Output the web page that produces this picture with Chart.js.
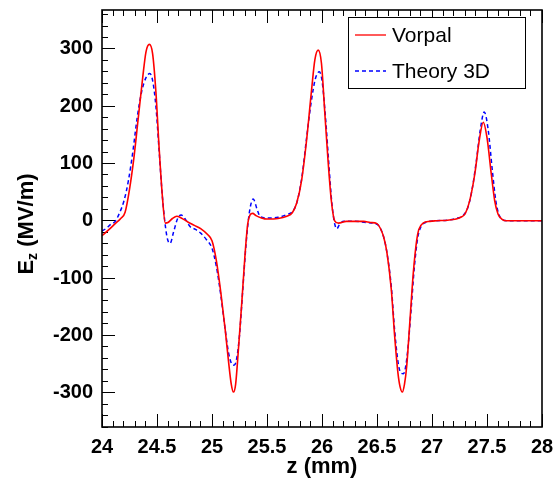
<!DOCTYPE html>
<html>
<head>
<meta charset="utf-8">
<script src="https://cdn.jsdelivr.net/npm/chart.js"></script>
<style>
    body { margin: 0; background: #fff; }
</style>
</head>
<body>
<canvas id="myChart" width="559" height="481"></canvas>
<script>
// Vorpal (simulation)
var zVorpal = [24.00, 24.06, 24.12, 24.17, 24.21, 24.25, 24.29, 24.33, 24.37, 24.40, 24.43, 24.46, 24.49, 24.52, 24.55, 24.575,
    24.60, 24.64, 24.68, 24.72, 24.78, 24.84, 24.90, 24.96, 25.00, 25.04, 25.08, 25.12, 25.15, 25.175, 25.195, 25.215, 25.24,
    25.27, 25.30, 25.325, 25.345, 25.37, 25.40, 25.45, 25.50, 25.60, 25.68, 25.73, 25.77, 25.815, 25.86, 25.905, 25.935, 25.965,
    25.995, 26.025, 26.055, 26.085, 26.115, 26.15, 26.22, 26.30, 26.38, 26.44, 26.50, 26.53, 26.56, 26.59, 26.63, 26.66, 26.69,
    26.71, 26.73, 26.75, 26.77, 26.80, 26.83, 26.86, 26.88, 26.92, 26.98, 27.04, 27.14, 27.22, 27.27, 27.30, 27.345, 27.39,
    27.43, 27.466, 27.50, 27.54, 27.57, 27.60, 27.634, 27.68, 27.80, 28.00];
var ezVorpal = [-26, -16, -5, 4, 15, 55, 110, 180, 250, 295, 308, 292, 225, 125, 40, -4,
    -3, 4, 8, 5, -2, -8, -14, -24, -35, -70, -125, -190, -245, -285, -299, -285, -225,
    -145, -60, -5, 10, 13, 9, 5, 3, 4, 8, 14, 31, 71, 141, 228, 281, 298,
    275, 190, 105, 35, 0, -4, -1, -1, -1, -3, -5, -13, -28, -55, -120, -200, -265,
    -290, -299, -285, -254, -173, -91, -35, -15, -4, -1, 0, 1, 3, 7, 12, 37, 83,
    141, 172, 145, 80, 35, 12, 3, 0, 0, 0];

// Theory 3D
var zTheory = [24.00, 24.04, 24.08, 24.12, 24.16, 24.20, 24.24, 24.28, 24.32, 24.36, 24.40, 24.435, 24.46, 24.49, 24.52, 24.55,
    24.58, 24.60, 24.62, 24.65, 24.69, 24.72, 24.76, 24.80, 24.85, 24.90, 24.95, 25.00, 25.04, 25.08, 25.12, 25.15, 25.18,
    25.20, 25.22, 25.25, 25.28, 25.31, 25.34, 25.375, 25.41, 25.44, 25.50, 25.60, 25.68, 25.74, 25.78, 25.82, 25.86, 25.90,
    25.94, 25.975, 26.00, 26.03, 26.06, 26.09, 26.115, 26.135, 26.16, 26.20, 26.30, 26.40, 26.50, 26.53, 26.56, 26.59, 26.63,
    26.66, 26.69, 26.715, 26.74, 26.76, 26.78, 26.81, 26.84, 26.87, 26.90, 26.94, 27.04, 27.14, 27.22, 27.28, 27.32, 27.36,
    27.40, 27.44, 27.475, 27.51, 27.55, 27.58, 27.61, 27.64, 27.70, 28.00];
var ezTheory = [-18, -13, -6, -1, 14, 35, 70, 120, 180, 225, 250, 257, 245, 200, 120, 40,
    -15, -35, -39, -20, 5, 10, 2, -10, -15, -22, -33, -48, -80, -130, -190, -230, -250,
    -252, -245, -200, -120, -40, 15, 38, 20, 7, 5, 6, 11, 18, 38, 80, 145, 205,
    248, 260, 245, 185, 105, 30, -5, -14, -6, -1, -1, -3, -6, -13, -28, -55, -115,
    -190, -245, -265, -267, -255, -225, -155, -80, -30, -10, -3, 0, 1, 4, 9, 20, 50,
    100, 160, 190, 160, 85, 35, 10, 2, 0, 0];

var zTicks = [24, 24.5, 25, 25.5, 26, 26.5, 27, 27.5, 28];
var ezTicks = [-300, -200, -100, 0, 100, 200, 300];
var zMinorStep = 0.1;
var ezMinorStep = 20;
var seriesNames = ['Vorpal', 'Theory 3D'];

var zMin = 24, zMax = 28;
var ezMin = -360, ezMax = 368;
var legendBox = { x: 348, y: 17, w: 177, h: 71 };
var tickFont = { family: '"Liberation Sans", Arial, sans-serif', size: 20, weight: 'bold' };

function toPoints(xs, ys) {
    var pts = [];
    for (var i = 0; i < xs.length; i++) {
        pts.push({ x: xs[i], y: ys[i] });
    }
    return pts;
}

function fixTicks(list) {
    return function (scale) {
        scale.ticks = list.map(function (v) { return { value: v }; });
    };
}

function stepTicks(lo, hi, step) {
    var out = [];
    var n = Math.round((hi - lo) / step);
    var start = Math.ceil(lo / step - 1e-9);
    for (var k = start; k * step <= hi + 1e-9; k++) {
        out.push(Math.round(k * step * 1000) / 1000);
    }
    return out;
}

// 눈금만 그리는 보조 축 (라벨 없음, 안쪽 방향)
function tickAxis(axis, position, lo, hi, list, len) {
    return {
        type: 'linear',
        axis: axis,
        position: position,
        min: lo,
        max: hi,
        weight: 0,
        afterBuildTicks: fixTicks(list),
        afterFit: function (s) {
            if (axis === 'x') { s.height = 0; } else { s.width = 0; }
            s.paddingTop = 0; s.paddingBottom = 0; s.paddingLeft = 0; s.paddingRight = 0;
        },
        grid: { display: true, drawOnChartArea: false, drawTicks: true, tickLength: -len, tickColor: '#000', tickWidth: 1 },
        border: { display: false },
        ticks: { display: false }
    };
}

// 프레임, 범례, 축 제목
var framePlugin = {
    id: 'rootStyle',
    afterDraw: function (chart) {
        var c = chart.ctx;
        var a = chart.chartArea;

        c.save();
        // 범례
        c.fillStyle = '#ffffff';
        c.fillRect(legendBox.x, legendBox.y, legendBox.w, legendBox.h);
        c.strokeStyle = '#000000';
        c.lineWidth = 1;
        c.strokeRect(legendBox.x + 0.5, legendBox.y + 0.5, legendBox.w, legendBox.h);
        c.font = '21px "Liberation Sans", Arial, sans-serif';
        c.textBaseline = 'middle';
        c.textAlign = 'left';
        chart.data.datasets.forEach(function (ds, k) {
            var ly = 35 + k * 36;
            c.save();
            c.beginPath();
            c.strokeStyle = ds.borderColor;
            c.lineWidth = 1.3;
            c.setLineDash(ds.borderDash || []);
            c.moveTo(355, ly);
            c.lineTo(386, ly);
            c.stroke();
            c.restore();
            c.fillStyle = '#000000';
            c.fillText(ds.label, 392, ly + 1);
        });

        // 테두리
        c.strokeStyle = '#000000';
        c.lineWidth = 1.6;
        c.strokeRect(a.left, a.top, a.right - a.left, a.bottom - a.top);

        // 축 제목
        c.fillStyle = '#000000';
        c.font = 'bold 22px "Liberation Sans", Arial, sans-serif';
        c.textAlign = 'center';
        c.fillText('z (mm)', (a.left + a.right) / 2, 467);

        c.translate(27, 224);
        c.rotate(-Math.PI / 2);
        var big = 'bold 22px "Liberation Sans", Arial, sans-serif';
        var small = 'bold 14px "Liberation Sans", Arial, sans-serif';
        c.font = big;
        var wE = c.measureText('E').width;
        var wRest = c.measureText(' (MV/m)').width;
        c.font = small;
        var wz = c.measureText('z').width;
        var x0 = -(wE + wz + wRest) / 2;
        c.textAlign = 'left';
        c.font = big;
        c.fillText('E', x0, 0);
        c.font = small;
        c.fillText('z', x0 + wE, 6);
        c.font = big;
        c.fillText(' (MV/m)', x0 + wE + wz, 0);
        c.restore();
    }
};

var zMinor = stepTicks(zMin, zMax, zMinorStep);
var ezMinor = stepTicks(ezMin, ezMax, ezMinorStep);

var ctx = document.getElementById('myChart').getContext('2d');
var myChart = new Chart(ctx, {
    type: 'scatter',
    data: {
        datasets: [{
            label: seriesNames[0],
            data: toPoints(zVorpal, ezVorpal),
            showLine: true,
            borderColor: '#ff0000',
            borderWidth: 1.6,
            pointRadius: 0,
            cubicInterpolationMode: 'monotone'
        }, {
            label: seriesNames[1],
            data: toPoints(zTheory, ezTheory),
            showLine: true,
            borderColor: '#0000ff',
            borderWidth: 1.5,
            borderDash: [4, 3],
            pointRadius: 0,
            cubicInterpolationMode: 'monotone'
        }]
    },
    options: {
        responsive: false,
        animation: false,
        layout: { padding: { left: 0, right: 17, top: 10, bottom: 0 } },
        plugins: {
            legend: { display: false },
            tooltip: { enabled: false }
        },
        scales: {
            x: {
                type: 'linear',
                position: 'bottom',
                min: zMin,
                max: zMax,
                weight: 1,
                afterBuildTicks: fixTicks(zTicks),
                afterFit: function (s) { s.height = 54; s.paddingLeft = 0; s.paddingRight = 0; },
                grid: { display: true, drawOnChartArea: false, drawTicks: true, tickLength: -13, tickColor: '#000', tickWidth: 1 },
                border: { display: false },
                ticks: {
                    padding: 21,
                    color: '#000',
                    font: tickFont,
                    autoSkip: false,
                    maxRotation: 0,
                    callback: function (v) { return String(v); }
                }
            },
            y: {
                type: 'linear',
                position: 'left',
                min: ezMin,
                max: ezMax,
                weight: 1,
                afterBuildTicks: fixTicks(ezTicks),
                afterFit: function (s) { s.width = 102; s.paddingTop = 0; s.paddingBottom = 0; },
                grid: { display: true, drawOnChartArea: false, drawTicks: true, tickLength: -13, tickColor: '#000', tickWidth: 1 },
                border: { display: false },
                ticks: {
                    padding: 22,
                    color: '#000',
                    font: tickFont,
                    autoSkip: false,
                    callback: function (v) { return String(v); }
                }
            },
            xMinor: tickAxis('x', 'bottom', zMin, zMax, zMinor, 6),
            xTop: tickAxis('x', 'top', zMin, zMax, zTicks, 13),
            xTopMinor: tickAxis('x', 'top', zMin, zMax, zMinor, 6),
            yMinor: tickAxis('y', 'left', ezMin, ezMax, ezMinor, 6)
        }
    },
    plugins: [framePlugin]
});
</script>
</body>
</html>
